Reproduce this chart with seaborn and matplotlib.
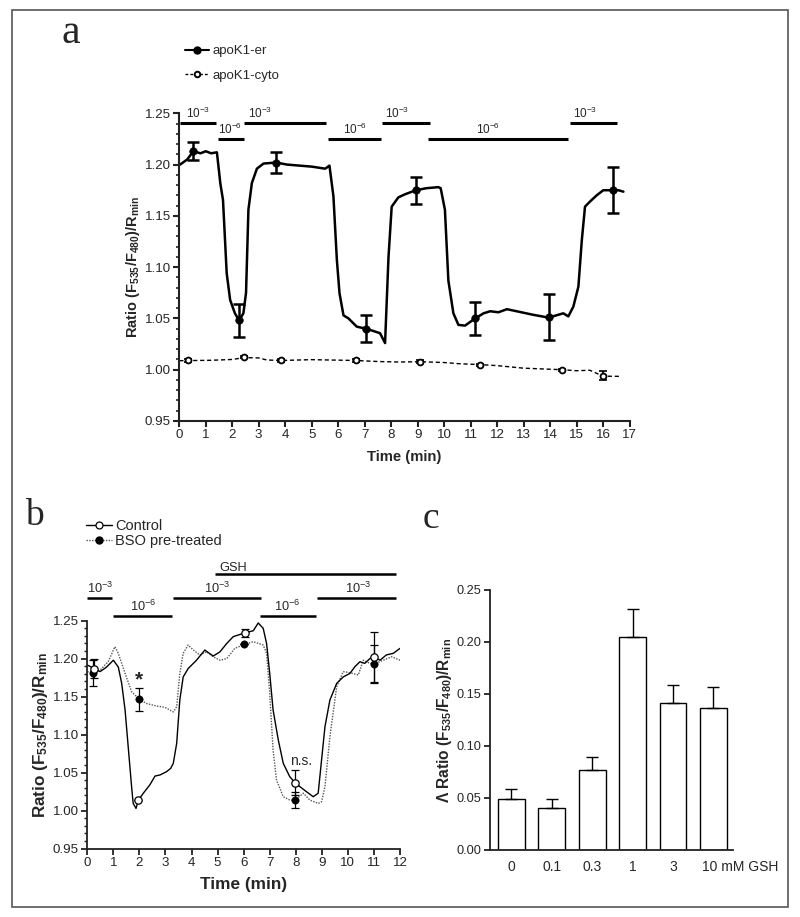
import matplotlib
matplotlib.use("Agg")
import matplotlib.pyplot as plt
import matplotlib.transforms as mtransforms
from matplotlib.lines import Line2D
from matplotlib.patches import Rectangle
from matplotlib.ticker import MultipleLocator, FormatStrFormatter
import seaborn as sns

# ---------------- data ----------------
# panel a: apoK1-er trace
er_time = [0.03, 0.3, 0.53, 0.8, 1.0, 1.2, 1.42, 1.55, 1.65, 1.79, 1.92, 2.1, 2.26,
           2.42, 2.52, 2.61, 2.74, 2.93, 3.18, 3.66, 4.07, 5.0, 5.51, 5.67, 5.82,
           5.95, 6.05, 6.2, 6.39, 6.7, 7.04, 7.3, 7.58, 7.77, 7.9, 8.02, 8.27, 8.52,
           8.93, 9.34, 9.78, 9.87, 10.03, 10.16, 10.35, 10.54, 10.79, 11.17, 11.49,
           11.74, 12.05, 12.37, 12.74, 13.37, 13.95, 14.5, 14.69, 14.88, 15.07, 15.2,
           15.32, 15.51, 15.76, 16.01, 16.39, 16.58, 16.77]
er_ratio = [1.200, 1.205, 1.213, 1.211, 1.213, 1.211, 1.212, 1.1815, 1.1655, 1.094,
            1.068, 1.055, 1.048, 1.055, 1.075, 1.156, 1.182, 1.196, 1.201, 1.202,
            1.200, 1.198, 1.196, 1.199, 1.169, 1.107, 1.0745, 1.053, 1.050, 1.042,
            1.040, 1.038, 1.0356, 1.026, 1.110, 1.159, 1.168, 1.171, 1.175, 1.177,
            1.178, 1.177, 1.156, 1.087, 1.055, 1.0437, 1.043, 1.050, 1.055, 1.057,
            1.056, 1.059, 1.057, 1.0535, 1.0508, 1.055, 1.052, 1.0615, 1.081, 1.1265,
            1.159, 1.164, 1.170, 1.175, 1.175, 1.175, 1.1736]
er_pts_time = [0.53, 2.27, 3.66, 7.05, 8.94, 11.17, 13.96, 16.39]
er_pts_mean = [1.213, 1.048, 1.202, 1.040, 1.175, 1.050, 1.051, 1.175]
er_pts_err = [0.009, 0.0165, 0.010, 0.013, 0.013, 0.016, 0.0225, 0.0225]

# panel a: apoK1-cyto trace
cyto_time = [0.0, 0.33, 1.2, 2.0, 2.45, 3.0, 3.3, 3.83, 5.0, 6.66, 7.5, 8.3, 9.1,
             10.0, 10.6, 11.35, 12.0, 13.0, 14.46, 15.0, 15.5, 16.0, 16.7]
cyto_ratio = [1.0088, 1.0089, 1.0092, 1.010, 1.0118, 1.0115, 1.0095, 1.009, 1.0098,
              1.009, 1.008, 1.0075, 1.0078, 1.007, 1.0058, 1.005, 1.004, 1.0015,
              1.000, 0.999, 0.9995, 0.9937, 0.9935]
cyto_pts_time = [0.33, 2.45, 3.83, 6.66, 9.1, 11.35, 14.46, 16.0]
cyto_pts_mean = [1.009, 1.012, 1.009, 1.009, 1.008, 1.005, 1.000, 0.994]
cyto_pts_err = [0.001, 0.001, 0.001, 0.001, 0.001, 0.001, 0.001, 0.0045]

# panel a: perfusion bars (start, end, exponent, label x)
a_bar_start = [0.03, 1.47, 2.44, 5.61, 7.65, 9.40, 14.76]
a_bar_end = [1.39, 2.43, 5.54, 7.62, 9.45, 14.68, 16.53]
a_bar_exp = [-3, -6, -3, -6, -3, -6, -3]
a_bar_text_x = [0.71, 1.91, 3.05, 6.64, 8.21, 11.67, 15.32]

# panel b: Control trace
ctrl_time = [0.0, 0.27, 0.49, 0.74, 1.0, 1.19, 1.32, 1.45, 1.57, 1.7, 1.76, 1.87,
             1.96, 2.15, 2.4, 2.6, 2.79, 3.04, 3.2, 3.3, 3.43, 3.55, 3.68, 3.87,
             4.19, 4.51, 4.83, 5.09, 5.35, 5.6, 6.05, 6.37, 6.56, 6.75, 6.88, 7.0,
             7.13, 7.33, 7.52, 7.77, 7.97, 8.16, 8.41, 8.67, 8.86, 8.99, 9.12, 9.31,
             9.57, 9.82, 10.08, 10.27, 10.46, 10.65, 10.84, 11.0, 11.23, 11.48,
             11.74, 12.0]
ctrl_ratio = [1.1917, 1.187, 1.183, 1.189, 1.198, 1.189, 1.1675, 1.1325, 1.084,
              1.0316, 1.0097, 1.003, 1.014, 1.023, 1.034, 1.0456, 1.047, 1.0513,
              1.0557, 1.0623, 1.0886, 1.1456, 1.176, 1.187, 1.198, 1.2114, 1.2035,
              1.209, 1.220, 1.229, 1.234, 1.2368, 1.247, 1.240, 1.220, 1.1807,
              1.1325, 1.093, 1.0623, 1.0447, 1.037, 1.0316, 1.025, 1.0184, 1.023,
              1.0667, 1.1105, 1.1456, 1.1675, 1.176, 1.1807, 1.1895, 1.196, 1.1939,
              1.200, 1.2026, 1.198, 1.205, 1.207, 1.2136]
ctrl_pts_time = [0.27, 1.96, 6.05, 7.97, 11.0]
ctrl_pts_mean = [1.187, 1.014, 1.234, 1.037, 1.2026]
ctrl_pts_err = [0.012, 0.0, 0.005, 0.017, 0.033]

# panel b: BSO pre-treated trace
bso_time = [0.0, 0.23, 0.49, 0.8, 1.06, 1.19, 1.45, 1.7, 2.0, 2.28, 2.66, 2.98, 3.3,
            3.43, 3.55, 3.68, 3.87, 4.07, 4.32, 4.58, 4.83, 5.09, 5.35, 5.66, 6.05,
            6.37, 6.75, 6.88, 7.0, 7.13, 7.26, 7.52, 7.77, 7.97, 8.29, 8.54, 8.86,
            8.99, 9.12, 9.31, 9.57, 9.82, 10.08, 10.4, 10.59, 10.84, 11.0, 11.36,
            11.68, 12.0]
bso_ratio = [1.183, 1.1816, 1.185, 1.196, 1.2158, 1.207, 1.1807, 1.1566, 1.1465,
             1.141, 1.1377, 1.136, 1.130, 1.1368, 1.1807, 1.207, 1.218, 1.2114,
             1.2048, 1.209, 1.2026, 1.198, 1.200, 1.2136, 1.219, 1.2224, 1.218,
             1.207, 1.1544, 1.0798, 1.0404, 1.0184, 1.014, 1.014, 1.023, 1.014,
             1.0096, 1.0118, 1.0316, 1.0974, 1.1632, 1.183, 1.1816, 1.1785, 1.198,
             1.1939, 1.193, 1.198, 1.2026, 1.198]
bso_pts_time = [0.23, 2.0, 6.02, 7.97, 11.0]
bso_pts_mean = [1.1816, 1.1465, 1.219, 1.014, 1.193]
bso_pts_err = [0.017, 0.015, 0.0, 0.011, 0.025]

# panel b: perfusion bars
b_bar_start = [0.0, 1.0, 3.28, 6.63, 8.8]
b_bar_end = [0.96, 3.26, 6.65, 8.78, 11.83]
b_bar_exp = [-3, -6, -3, -6, -3]
b_bar_text_x = [0.49, 2.15, 4.97, 7.67, 10.4]
gsh_start, gsh_end, gsh_text_x = 4.9, 11.83, 5.6

# panel c: bar chart
gsh_conc = ["0", "0.1", "0.3", "1", "3", "10 mM GSH"]
delta_ratio = [0.049, 0.0407, 0.0772, 0.2051, 0.141, 0.1362]
delta_sem = [0.0093, 0.0083, 0.0125, 0.027, 0.018, 0.0205]

# ---------------- style ----------------
sns.set_theme(style="ticks")
plt.rcParams["font.family"] = ["Liberation Sans", "DejaVu Sans"]
plt.rcParams["mathtext.fontset"] = "custom"
plt.rcParams["mathtext.rm"] = "Liberation Sans"
plt.rcParams["mathtext.bf"] = "Liberation Sans:bold"
plt.rcParams["mathtext.it"] = "Liberation Sans:italic"

W, H = 800, 917
fig = plt.figure(figsize=(W / 100, H / 100), dpi=100)

def px_axes(left, top, right, bottom):
    return fig.add_axes([left / W, 1 - bottom / H, (right - left) / W, (bottom - top) / H])

ylab = r"Ratio (F$_{\mathbf{535}}$/F$_{\mathbf{480}}$)/R$_{\mathbf{min}}$"

def style_axis(ax, lw, size):
    sns.despine(ax=ax)
    for s in ("left", "bottom"):
        ax.spines[s].set_linewidth(lw)
        ax.spines[s].set_color("#222222")
    ax.tick_params(which="major", length=4, width=lw, color="#222222",
                   labelsize=size, pad=2)
    ax.tick_params(which="minor", length=2.5, width=lw * 0.8, color="#222222")

# ---------------- panel a ----------------
ax_a = px_axes(179.3, 113.3, 629.5, 421)
sns.lineplot(x=cyto_time, y=cyto_ratio, ax=ax_a, color="black", linewidth=1.0,
             linestyle=(0, (3, 2)), estimator=None, sort=False)
sns.lineplot(x=er_time, y=er_ratio, ax=ax_a, color="black", linewidth=1.8,
             estimator=None, sort=False)
ax_a.errorbar(er_pts_time, er_pts_mean, yerr=er_pts_err, fmt="none", ecolor="black",
              elinewidth=1.8, capsize=4, capthick=1.8, zorder=4)
ax_a.errorbar(cyto_pts_time, cyto_pts_mean, yerr=cyto_pts_err, fmt="none",
              ecolor="black", elinewidth=1.2, capsize=3, capthick=1.2, zorder=4)
sns.scatterplot(x=er_pts_time, y=er_pts_mean, ax=ax_a, color="black", s=30,
                edgecolor="black", zorder=5)
sns.scatterplot(x=cyto_pts_time, y=cyto_pts_mean, ax=ax_a, color="white", s=18,
                edgecolor="black", linewidth=1.3, zorder=5)
ax_a.set_xlim(0, 17)
ax_a.set_ylim(0.95, 1.25)
ax_a.xaxis.set_major_locator(MultipleLocator(1))
ax_a.yaxis.set_major_locator(MultipleLocator(0.05))
ax_a.yaxis.set_minor_locator(MultipleLocator(0.01))
ax_a.yaxis.set_major_formatter(FormatStrFormatter("%.2f"))
style_axis(ax_a, 1.5, 9.6)
ax_a.set_xlabel("Time (min)", fontsize=10.7, fontweight="bold")
ax_a.set_ylabel(ylab, fontsize=10.5, fontweight="bold")
ax_a.xaxis.set_label_coords(0.5, -0.094)
ax_a.yaxis.set_label_coords(-0.082, 0.5)

for x0, x1, e, tx in zip(a_bar_start, a_bar_end, a_bar_exp, a_bar_text_x):
    y = 1.2405 if e == -3 else 1.225
    ax_a.plot([x0, x1], [y, y], color="black", lw=2.2, solid_capstyle="butt",
              clip_on=False)
    ax_a.text(tx, y + 0.002, f"10$^{{{e}}}$", ha="center", va="bottom", fontsize=8.5)

leg_a = [Line2D([], [], color="black", lw=1.5, marker="o", markersize=5,
                markerfacecolor="black"),
         Line2D([], [], color="black", lw=1.0, linestyle=(0, (2, 1.5)), marker="o",
                markersize=4, markerfacecolor="white", markeredgewidth=1.4)]
fig.legend(leg_a, ["apoK1-er", "apoK1-cyto"], loc="upper left",
           bbox_to_anchor=(185 / W, 1 - 45 / H), frameon=False, fontsize=9.5,
           handlelength=1.85, handletextpad=0.2, labelspacing=0.95,
           borderpad=0, borderaxespad=0)

# ---------------- panel b ----------------
ax_b = px_axes(87.3, 620.7, 400, 848.7)
sns.lineplot(x=bso_time, y=bso_ratio, ax=ax_b, color="#555555", linewidth=1.0,
             linestyle=(0, (1, 1)), estimator=None, sort=False)
sns.lineplot(x=ctrl_time, y=ctrl_ratio, ax=ax_b, color="black", linewidth=1.0,
             estimator=None, sort=False)
ax_b.errorbar(ctrl_pts_time, ctrl_pts_mean, yerr=ctrl_pts_err, fmt="none",
              ecolor="black", elinewidth=0.9, capsize=3, capthick=0.9, zorder=4)
ax_b.errorbar(bso_pts_time, bso_pts_mean, yerr=bso_pts_err, fmt="none",
              ecolor="black", elinewidth=0.9, capsize=3, capthick=0.9, zorder=4)
sns.scatterplot(x=bso_pts_time, y=bso_pts_mean, ax=ax_b, color="black", s=28,
                edgecolor="black", zorder=5)
sns.scatterplot(x=ctrl_pts_time, y=ctrl_pts_mean, ax=ax_b, color="white", s=28,
                edgecolor="black", linewidth=0.9, zorder=6)
ax_b.set_xlim(0, 12)
ax_b.set_ylim(0.95, 1.25)
ax_b.xaxis.set_major_locator(MultipleLocator(1))
ax_b.yaxis.set_major_locator(MultipleLocator(0.05))
ax_b.yaxis.set_minor_locator(MultipleLocator(0.01))
ax_b.yaxis.set_major_formatter(FormatStrFormatter("%.2f"))
style_axis(ax_b, 1.3, 9.6)
ax_b.set_xlabel("Time (min)", fontsize=12.4, fontweight="bold")
ax_b.set_ylabel(ylab, fontsize=12.3, fontweight="bold")
ax_b.xaxis.set_label_coords(0.5, -0.125)
ax_b.yaxis.set_label_coords(-0.12, 0.5)

for x0, x1, e, tx in zip(b_bar_start, b_bar_end, b_bar_exp, b_bar_text_x):
    y = 1.2803 if e == -3 else 1.2562
    ax_b.plot([x0, x1], [y, y], color="black", lw=1.8, solid_capstyle="butt",
              clip_on=False)
    ax_b.text(tx, y + 0.002, f"10$^{{{e}}}$", ha="center", va="bottom", fontsize=9.2)
ax_b.plot([gsh_start, gsh_end], [1.311, 1.311], color="black", lw=1.8,
          solid_capstyle="butt", clip_on=False)
ax_b.text(gsh_text_x, 1.311, "GSH", ha="center", va="bottom", fontsize=9.2)
ax_b.text(2.0, 1.172, "*", ha="center", va="center", fontsize=15, fontweight="bold")
ax_b.text(8.2, 1.066, "n.s.", ha="center", va="center", fontsize=10)

leg_b = [Line2D([], [], color="black", lw=1.0, marker="o", markersize=5,
                markerfacecolor="white", markeredgewidth=0.9),
         Line2D([], [], color="#555555", lw=1.0, linestyle=(0, (1, 1)), marker="o",
                markersize=5, markerfacecolor="black", markeredgecolor="black")]
fig.legend(leg_b, ["Control", "BSO pre-treated"], loc="upper left",
           bbox_to_anchor=(86 / W, 1 - 519 / H), frameon=False, fontsize=10.5,
           handlelength=1.8, handletextpad=0.2, labelspacing=0.05,
           borderpad=0, borderaxespad=0)

# ---------------- panel c ----------------
ax_c = px_axes(490, 590, 733.3, 850)
sns.barplot(x=gsh_conc, y=delta_ratio, ax=ax_c, color="white", edgecolor="black",
            linewidth=1.0, width=0.66, saturation=1, errorbar=None)
ax_c.errorbar(range(len(gsh_conc)), delta_ratio,
              yerr=[[0] * len(delta_sem), delta_sem], fmt="none", ecolor="black",
              elinewidth=1.0, capsize=4, capthick=1.0)
ax_c.set_xlim(-0.53, 5.49)
ax_c.set_ylim(0, 0.25)
ax_c.yaxis.set_major_locator(MultipleLocator(0.05))
ax_c.yaxis.set_major_formatter(FormatStrFormatter("%.2f"))
style_axis(ax_c, 1.3, 9.2)
ax_c.tick_params(axis="x", length=0, pad=7, labelsize=10)
last = ax_c.get_xticklabels()[-1]
last.set_horizontalalignment("left")
last.set_transform(last.get_transform()
                   + mtransforms.ScaledTranslation(-0.115, 0, fig.dpi_scale_trans))
ax_c.set_ylabel("Λ " + ylab, fontsize=11.2, fontweight="bold")
ax_c.yaxis.set_label_coords(-0.148, 0.5)

# ---------------- panel letters and frame ----------------
fig.text(61.7 / W, 1 - 42.7 / H, "a", fontsize=30, family="Liberation Serif",
         ha="left", va="baseline")
fig.text(25 / W, 1 - 525 / H, "b", fontsize=27, family="Liberation Serif",
         ha="left", va="baseline")
fig.text(423 / W, 1 - 528.3 / H, "c", fontsize=27, family="Liberation Serif",
         ha="left", va="baseline")
fig.add_artist(Rectangle((12 / W, 1 - 907 / H), (787.5 - 12) / W, (907 - 9.5) / H,
                         transform=fig.transFigure, fill=False,
                         edgecolor="#555555", lw=1.2))

fig.savefig("out.png", dpi=100)
